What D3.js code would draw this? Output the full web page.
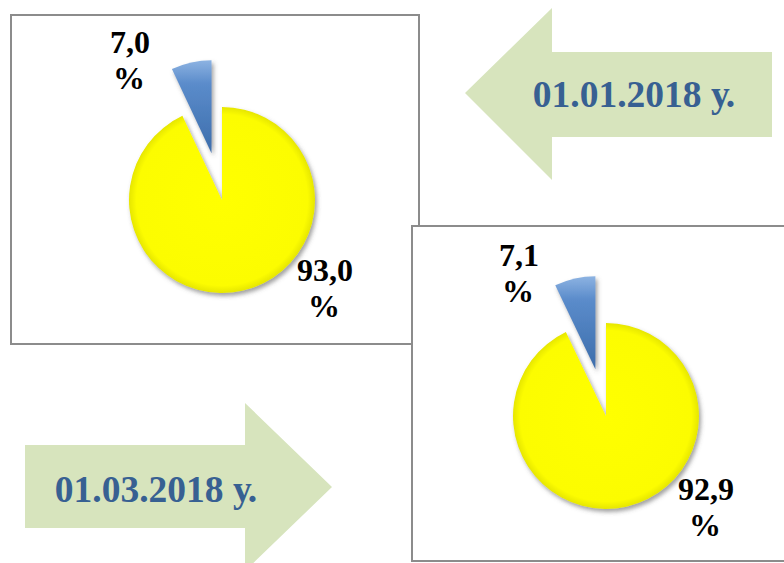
<!DOCTYPE html>
<html>
<head>
<meta charset="utf-8">
<script src="https://cdn.jsdelivr.net/npm/d3@7"></script>
<style>
  body { margin: 0; background: #fff; }
  text { font-family: "Liberation Serif", "Times New Roman", serif; font-weight: bold; }
</style>
</head>
<body>
<script>
// values (share, %)
var dates = ["01.01.2018 у.", "01.03.2018 у."];
var pie1Values = [93.0, 7.0];
var pie2Values = [92.9, 7.1];
var pie1Labels = ["93,0", "7,0"];
var pie2Labels = ["92,9", "7,1"];

var W = 784, H = 563;

var svg = d3.select("body").append("svg")
    .attr("width", W)
    .attr("height", H);

var defs = svg.append("defs");

//drop shadow for the slices
var f = defs.append("filter").attr("id", "shadow")
    .attr("x", "-20%").attr("y", "-20%").attr("width", "150%").attr("height", "150%");
f.append("feGaussianBlur").attr("in", "SourceAlpha").attr("stdDeviation", 2).attr("result", "b");
f.append("feOffset").attr("in", "b").attr("dx", 2).attr("dy", 3).attr("result", "o");
f.append("feFlood").attr("flood-color", "#555").attr("flood-opacity", 0.55);
f.append("feComposite").attr("in2", "o").attr("operator", "in").attr("result", "s");
var fm = f.append("feMerge");
fm.append("feMergeNode").attr("in", "s");
fm.append("feMergeNode").attr("in", "SourceGraphic");

var yg = defs.append("radialGradient").attr("id", "yellowGrad")
    .attr("gradientUnits", "userSpaceOnUse").attr("cx", 0).attr("cy", 0).attr("r", 93);
yg.append("stop").attr("offset", "0%").attr("stop-color", "#ffff00");
yg.append("stop").attr("offset", "92%").attr("stop-color", "#fcfc00");
yg.append("stop").attr("offset", "100%").attr("stop-color", "#e6e600");

var bg = defs.append("linearGradient").attr("id", "blueGrad")
    .attr("x1", 0).attr("y1", 0).attr("x2", 0).attr("y2", 1);
bg.append("stop").attr("offset", "0%").attr("stop-color", "#8db3e2");
bg.append("stop").attr("offset", "25%").attr("stop-color", "#5b8ccb");
bg.append("stop").attr("offset", "100%").attr("stop-color", "#3c6dab");

var colors = ["url(#yellowGrad)", "url(#blueGrad)"];

var pie = d3.pie().sort(null).startAngle(0).endAngle(2 * Math.PI);
var arc = d3.arc().innerRadius(0).outerRadius(93);

//arrows
var arrowColor = "#d7e4bd";
var textColor = "#376092";

svg.append("path")
  .attr("d", "M465,93 L552,8 L552,52 L772,52 L772,137 L552,137 L552,180 Z")
  .attr("fill", arrowColor);
svg.append("text")
  .attr("x", 634).attr("y", 107)
  .attr("text-anchor", "middle")
  .style("font-size", "37.5px")
  .attr("fill", textColor)
  .text(dates[0]);

svg.append("path")
  .attr("d", "M25,445 L245,445 L245,403 L332,487 L245,571 L245,528 L25,528 Z")
  .attr("fill", arrowColor);
svg.append("text")
  .attr("x", 156).attr("y", 502)
  .attr("text-anchor", "middle")
  .style("font-size", "37.5px")
  .attr("fill", textColor)
  .text(dates[1]);

function drawPanel(box, cx, cy, values, labels, bigPos, smallPos) {
  svg.append("rect")
    .attr("x", box[0]).attr("y", box[1])
    .attr("width", box[2]).attr("height", box[3])
    .attr("fill", "#fff")
    .attr("stroke", "#8c8c8c")
    .attr("stroke-width", 2);

  var g = svg.append("g").attr("transform", "translate(" + cx + "," + cy + ")");
  g.selectAll("path")
    .data(pie(values)).enter()
    .append("path")
    .attr("d", arc)
    .attr("fill", function(d, i) { return colors[i]; })
    .attr("filter", "url(#shadow)")
    .attr("transform", function(d, i) {
      if (i === 0) return null;
      var a = (d.startAngle + d.endAngle) / 2;
      var off = 48;
      return "translate(" + (Math.sin(a) * off) + "," + (-Math.cos(a) * off) + ")";
    });

  [bigPos, smallPos].forEach(function(p, i) {
    var t = svg.append("text")
      .attr("text-anchor", "middle")
      .style("font-size", "32px")
      .attr("fill", "#000");
    t.append("tspan").attr("x", p[0]).attr("y", p[1]).text(labels[i]);
    t.append("tspan").attr("x", p[0] - 1).attr("y", p[1] + 36).text("%");
  });
}

drawPanel([11, 15, 408, 329], 222, 200, pie1Values, pie1Labels, [325, 281], [130, 53]);
drawPanel([412, 226, 380, 335], 606, 416, pie2Values, pie2Labels, [706, 500], [519, 266]);
</script>
</body>
</html>
